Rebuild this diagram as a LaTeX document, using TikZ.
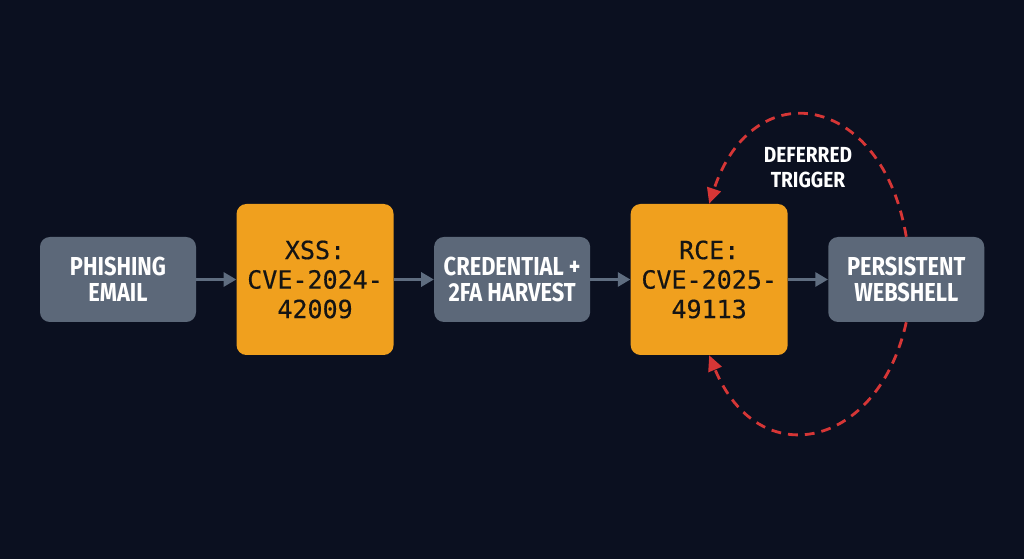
\documentclass[tikz,border=0pt]{standalone}
\usepackage{fontspec}
\newfontfamily\boxfont[FakeStretch=0.84]{Fira Sans}
\newfontfamily\notefont[FakeStretch=0.88]{Fira Sans}
\setmonofont{DejaVu Sans Mono}[FakeBold=0.4]
\usepackage{tikz}
\usetikzlibrary{arrows.meta, positioning, calc}
\definecolor{bgnavy}{HTML}{0B1020}
\definecolor{slate}{HTML}{5C6879}
\definecolor{amber}{HTML}{F0A01E}
\definecolor{inkdark}{HTML}{141414}
\definecolor{arrowgray}{HTML}{5F6D80}
\definecolor{alertred}{HTML}{D63636}
\tikzstyle{stage} = [rectangle, minimum width=3.9cm, minimum height=2.125cm, inner sep=0pt, align=center, fill=slate, rounded corners=7pt, text=white, font=\boxfont\bfseries\fontsize{18.5}{18.5}\selectfont]
\tikzstyle{exploit} = [rectangle, minimum width=3.925cm, minimum height=3.775cm, inner sep=0pt, align=center, fill=amber, rounded corners=7pt, text=inkdark, font=\ttfamily\fontsize{17.8}{21}\selectfont]
\tikzstyle{arrow} = [line width=2pt, draw=arrowgray, -{Triangle[length=9pt,width=10pt]}]
\tikzstyle{trigger} = [line width=2pt, draw=alertred, dash pattern=on 7pt off 5pt, -{Triangle[length=11pt,width=10pt]}]

\begin{document}
\begin{tikzpicture}[node distance=1cm]
    % background
    \fill[bgnavy] (0,0) rectangle (25.6,13.975);

    % attack chain
    \node (phish) [stage] at (2.95, 6.9875) {PHISHING\\EMAIL};
    \node (xss) [exploit, right=of phish] {XSS:\\CVE-2024-\\42009};
    \node (cred) [stage, right=of xss] {CREDENTIAL +\\2FA HARVEST};
    \node (rce) [exploit, right=of cred] {RCE:\\CVE-2025-\\49113};
    \node (shell) [stage, right=of rce] {PERSISTENT\\WEBSHELL};

    \draw [arrow] (phish) -- (xss);
    \draw [arrow] (xss) -- (cred);
    \draw [arrow] (cred) -- (rce);
    \draw [arrow] (rce) -- (shell);

    % deferred trigger loop
    \node (lbl) [text=white, align=center, font=\notefont\bfseries\fontsize{15.5}{17.8}\selectfont] at (20.2, 9.775) {DEFERRED\\TRIGGER};
    \draw [trigger] (shell.north) .. controls +(-0.6,3.575) and +(1.1,3.325) .. (rce.north);
    \draw [trigger] (shell.south) .. controls +(-0.7,-3.15) and +(1.24,-3.0) .. (rce.south);
\end{tikzpicture}
\end{document}
